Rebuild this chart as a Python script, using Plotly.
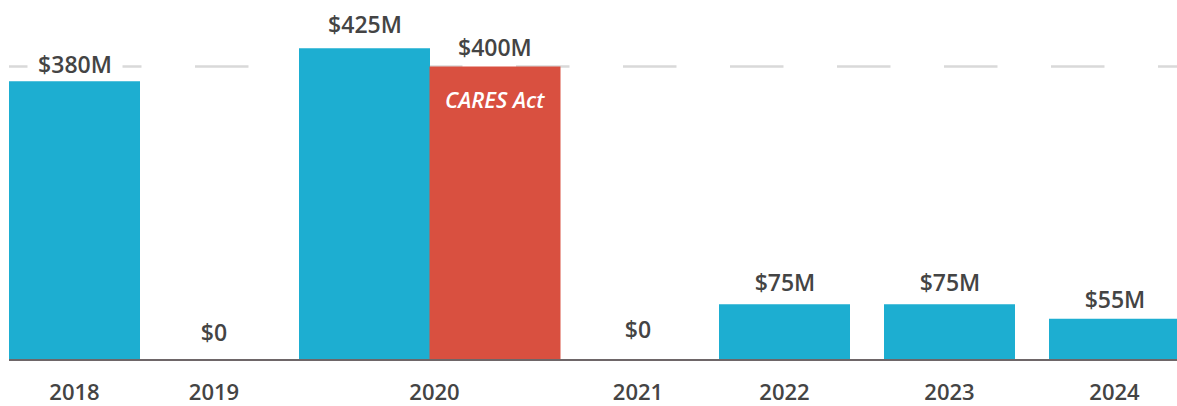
import plotly.graph_objects as go

# ---- data ----
years = ["2018", "2019", "2020", "2021", "2022", "2023", "2024"]
funding = [380, 0, 425, 0, 75, 75, 55]          # $M, regular appropriations
cares_year = "2020"
cares_value = 400                               # $M, CARES Act
cares_label = "CARES Act"
reference_level = 400                           # dashed reference line

def money(v):
    return f"${v}M" if v else "$0"

# ---- layout (pixel-like x units) ----
bar_x = [65.5, 205, 355.5, 629, 775.5, 940.5, 1105.5]
cares_x = 486
tick_x = [65.5, 205, 425.5, 629, 775.5, 940.5, 1105.5]
label_lift = [17, 27, 24.5, 30, 22.5, 22.5, 19.5]
cares_lift = 19.5

BLUE = "#1DAED1"
RED = "#D95040"
TEXT = "#444444"
FONT = "Open Sans"

fig = go.Figure()
fig.add_trace(go.Bar(x=bar_x, y=funding, width=131, marker=dict(color=BLUE, line=dict(width=0)),
                     hoverinfo="skip"))
fig.add_trace(go.Bar(x=[cares_x], y=[cares_value], width=131,
                     marker=dict(color=RED, line=dict(width=0)), hoverinfo="skip"))

# dashed reference line
fig.add_shape(type="line", xref="x", yref="y", x0=-28, x1=1200, y0=reference_level, y1=reference_level,
              line=dict(color="#d9d9d9", width=2.5, dash="53.5px,53.5px"), layer="below")

annotations = []
for x, v, lift in zip(bar_x, funding, label_lift):
    annotations.append(dict(x=x, y=v, xref="x", yref="y", text=money(v), showarrow=False,
                            yanchor="middle", yshift=lift, width=94,
                            font=dict(family=FONT, size=23, color=TEXT, weight=600),
                            bgcolor="white", borderpad=0))
annotations.append(dict(x=cares_x, y=cares_value, xref="x", yref="y", text=money(cares_value),
                        showarrow=False, yanchor="middle", yshift=cares_lift,
                        font=dict(family=FONT, size=23, color=TEXT, weight=600)))
annotations.append(dict(x=cares_x, y=cares_value, xref="x", yref="y", text=cares_label,
                        showarrow=False, yanchor="middle", yshift=-32,
                        font=dict(family=FONT, size=22, color="white", style="italic", weight=600)))

fig.update_layout(
    width=1177, height=406,
    margin=dict(l=9, r=0, t=0, b=44),
    paper_bgcolor="white", plot_bgcolor="white",
    showlegend=False, barmode="overlay",
    annotations=annotations,
    xaxis=dict(range=[0, 1168], tickmode="array", tickvals=tick_x, ticktext=years,
               showgrid=False, zeroline=False, showline=True, linewidth=2,
               linecolor="rgba(54,43,46,0.72)", ticks="", ticklabelstandoff=13,
               tickfont=dict(family=FONT, size=22, color=TEXT, weight=600), layer="above traces"),
    yaxis=dict(range=[0, 491], visible=False, showgrid=False, zeroline=False),
)

# remove the default page margin so the figure fills the window exactly
fig.write_html("out.html",
               config={"displayModeBar": False},
               post_script="document.body.style.margin='0';document.body.style.overflow='hidden';")
